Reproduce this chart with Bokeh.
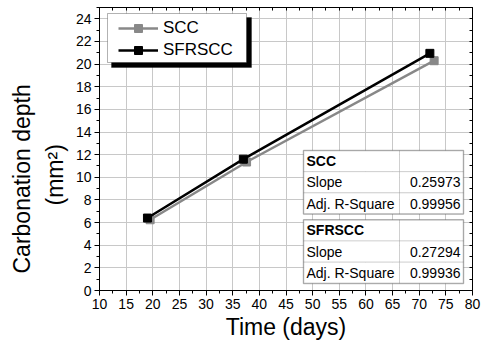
from bokeh.plotting import figure
from bokeh.models import (Range1d, LinearAxis, SingleIntervalTicker, FixedTicker, Legend,
                          LegendItem, BoxAnnotation, Label, Title)
from bokeh.embed import file_html
from bokeh.resources import INLINE

# ---- data ----
scc_x = [19.5, 37.6, 72.8]
scc_y = [6.25, 11.35, 20.3]
sfrscc_x = [19.0, 37.0, 72.0]
sfrscc_y = [6.4, 11.6, 20.95]

series_names = ["SCC", "SFRSCC"]
stat_names = ["Slope", "Adj. R-Square"]
slopes = ["0.25973", "0.27294"]
adj_r2 = ["0.99956", "0.99936"]

x_min, x_max, x_step = 10, 80, 5
y_min, y_max, y_step = 0, 25, 2

FONT = "Liberation Sans"
GRAY = "#888888"

p = figure(width=481, height=345, output_backend="svg", toolbar_location=None,
           x_range=Range1d(x_min, x_max), y_range=Range1d(y_min, y_max),
           min_border_left=99, min_border_right=9, min_border_top=7, min_border_bottom=55,
           background_fill_color="white", border_fill_color="white")
p.outline_line_color = "black"

xt = SingleIntervalTicker(interval=x_step, num_minor_ticks=2)
yt = SingleIntervalTicker(interval=y_step, num_minor_ticks=2)

for ax in p.xaxis + p.yaxis:
    ax.axis_line_color = "black"
    ax.axis_line_width = 1
    ax.major_tick_line_color = "black"
    ax.minor_tick_line_color = "black"
    ax.major_tick_out = 5
    ax.major_tick_in = 0
    ax.minor_tick_out = 3
    ax.minor_tick_in = 0
    ax.major_label_text_font = FONT
    ax.major_label_text_font_size = "14px"
    ax.major_label_text_color = "black"
    ax.major_label_standoff = 3
p.xaxis.ticker = xt
p.yaxis.ticker = yt
p.xaxis.axis_label = "Time (days)"
p.xaxis.axis_label_text_font = FONT
p.xaxis.axis_label_text_font_size = "23px"
p.xaxis.axis_label_text_font_style = "normal"
p.xaxis.axis_label_text_color = "black"
p.xaxis.axis_label_standoff = 2

# top / right frame axes: only short inward ticks, no labels
top_ticks = [x_min + 2.5 * i for i in range(int((x_max - x_min) / 2.5) + 1)]
right_ticks = list(range(y_min, y_max + 1))
top = LinearAxis(ticker=FixedTicker(ticks=[], minor_ticks=top_ticks))
right = LinearAxis(ticker=FixedTicker(ticks=[], minor_ticks=right_ticks))
for ax in (top, right):
    ax.minor_tick_in = 3
    ax.minor_tick_out = 0
    ax.major_tick_in = 0
    ax.major_tick_out = 0
    ax.major_label_standoff = 0
    ax.axis_line_color = "black"
    ax.minor_tick_line_color = "black"
p.add_layout(top, "above")
p.add_layout(right, "right")

p.xgrid.ticker = xt
p.ygrid.ticker = yt
for g in (p.xgrid, p.ygrid):
    g.grid_line_color = "#c8c8c8"
    g.grid_line_width = 1

# ---- y axis title, two lines (inner line first) ----
p.add_layout(Title(text="(mm²)", align="left", vertical_align="bottom", offset=85, standoff=10,
                   text_font=FONT, text_font_size="23px", text_font_style="normal",
                   text_color="black"), "left")
p.add_layout(Title(text="Carbonation depth", align="left", vertical_align="bottom", offset=17,
                   standoff=0, text_font=FONT, text_font_size="23px", text_font_style="normal",
                   text_color="black"), "left")

# ---- series ----
l1 = p.line(scc_x, scc_y, line_color=GRAY, line_width=2.5)
m1 = p.scatter(scc_x, scc_y, marker="square", size=8, fill_color=GRAY, line_color=GRAY)
l2 = p.line(sfrscc_x, sfrscc_y, line_color="black", line_width=2.5)
m2 = p.scatter(sfrscc_x, sfrscc_y, marker="square", size=8, fill_color="black", line_color="black")

# ---- legend (box + shadow drawn manually, frame-relative screen px) ----
def sbox(l, r, t, b, **kw):
    return BoxAnnotation(left=l, right=r, top=t, bottom=b,
                         left_units="screen", right_units="screen",
                         top_units="screen", bottom_units="screen", **kw)

p.add_layout(sbox(12, 152, 273, 223, fill_color="black", fill_alpha=1, line_color="black"))
p.add_layout(sbox(8, 147, 277, 228, fill_color="white", fill_alpha=1, line_color="black",
                  line_width=1))
legend = Legend(items=[LegendItem(label=series_names[0], renderers=[l1, m1]),
                       LegendItem(label=series_names[1], renderers=[l2, m2])],
                location=(19, 230), margin=0, padding=0, spacing=2,
                glyph_width=40, glyph_height=20, label_height=20, label_standoff=5,
                label_text_font=FONT, label_text_font_size="17px", label_text_color="black",
                border_line_color=None, background_fill_alpha=0)
p.add_layout(legend, "center")

# ---- statistics tables ----
row_h = 21.2
tab_left, tab_div, tab_right = 204, 300, 364
tab_tops = [140, 70.7]
for t, top_y in enumerate(tab_tops):
    rows = [(series_names[t], ""), (stat_names[0], slopes[t]), (stat_names[1], adj_r2[t])]
    for r, (name, val) in enumerate(rows):
        y_hi = top_y - r * row_h
        y_lo = y_hi - row_h
        for (xl, xr) in ((tab_left, tab_div), (tab_div, tab_right)):
            p.add_layout(sbox(xl, xr, y_hi, y_lo, fill_color="white", fill_alpha=1,
                              line_color="#8c8c8c", line_width=1))
        yc = (y_hi + y_lo) / 2
        p.add_layout(Label(x=tab_left + 3, y=yc, x_units="screen", y_units="screen",
                           text=name, text_font=FONT, text_font_size="14px",
                           text_font_style="bold" if r == 0 else "normal",
                           text_align="left", text_baseline="middle", text_color="black"))
        if val:
            p.add_layout(Label(x=tab_right - 3, y=yc, x_units="screen", y_units="screen",
                               text=val, text_font=FONT, text_font_size="14px",
                               text_align="right", text_baseline="middle", text_color="black"))
    p.add_layout(sbox(tab_left, tab_right, top_y, top_y - 3 * row_h,
                      fill_alpha=0, line_color="#333333", line_width=1.5))

open("out.html", "w").write(file_html(p, INLINE))
